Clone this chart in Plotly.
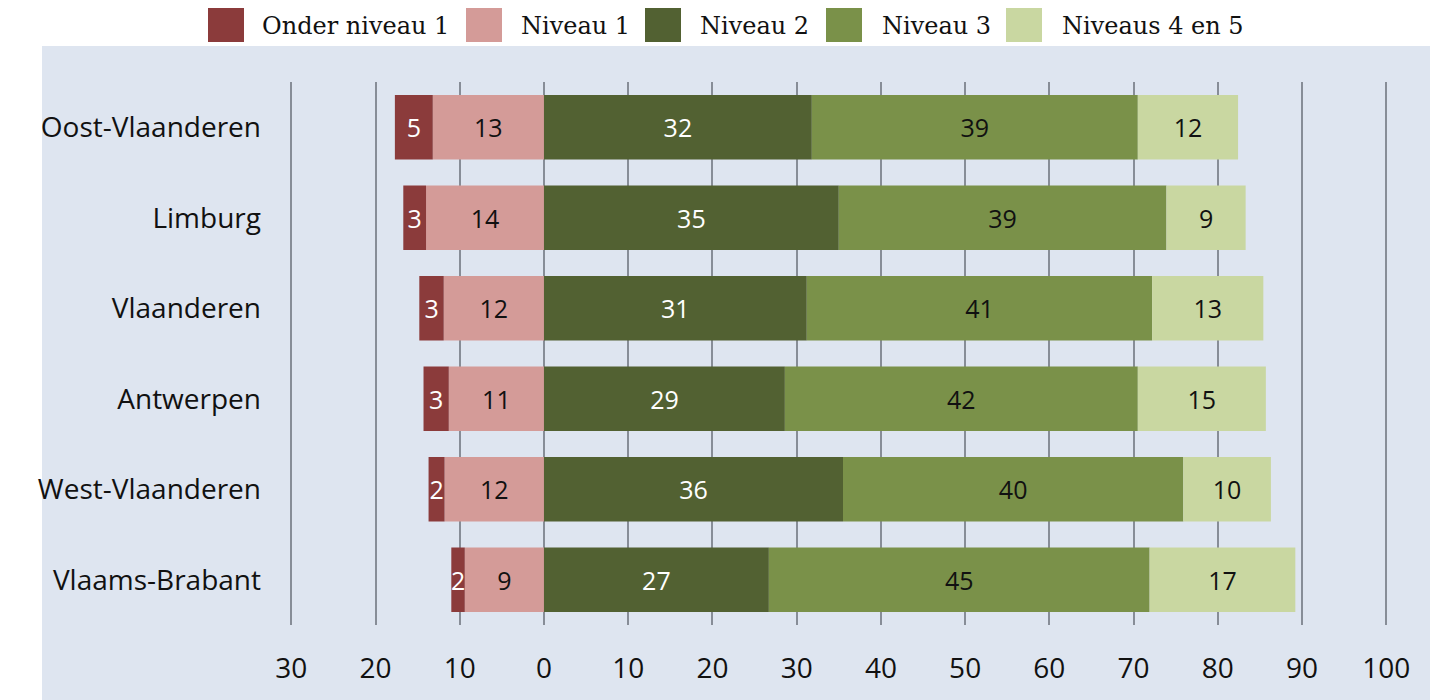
import math
import plotly.graph_objects as go

# ---------------- data ----------------
categories = ["Oost-Vlaanderen", "Limburg", "Vlaanderen", "Antwerpen",
              "West-Vlaanderen", "Vlaams-Brabant"]
series_names = ["Onder niveau 1", "Niveau 1", "Niveau 2", "Niveau 3", "Niveaus 4 en 5"]
onder_niveau_1 = [4.5, 2.7, 2.9, 3.0, 1.9, 1.6]
niveau_1 = [13.2, 14.0, 11.9, 11.3, 11.8, 9.4]
niveau_2 = [31.8, 35.0, 31.2, 28.6, 35.5, 26.7]
niveau_3 = [38.7, 38.9, 41.0, 41.9, 40.4, 45.2]
niveaus_4_5 = [11.9, 9.4, 13.2, 15.2, 10.4, 17.3]
tick_values = [-30, -20, -10, 0, 10, 20, 30, 40, 50, 60, 70, 80, 90, 100]
tick_labels = ["30", "20", "10", "0", "10", "20", "30", "40", "50", "60", "70", "80", "90", "100"]

# ---------------- style ----------------
colors = ["#8B3B3B", "#D49B98", "#526132", "#7A9149", "#C9D7A1"]
text_colors = ["white", "#111111", "white", "#111111", "#111111"]
BG = "#DEE5F0"
W, H = 1430, 700
ML, MR, MT, MB = 266, 10, 82, 75
PW, PH = W - ML - MR, H - MT - MB
SANS = "Open Sans"
SERIF = "DejaVu Serif"


def lab(vals):
    return [str(int(math.floor(abs(v) + 0.5))) for v in vals]


def px_x(p):
    return (p - ML) / PW


def px_y(p):
    return (H - MB - p) / PH


fig = go.Figure()

# negative side first (stacked outward from zero), then positive side
order = [(1, niveau_1, -1), (0, onder_niveau_1, -1),
         (2, niveau_2, 1), (3, niveau_3, 1), (4, niveaus_4_5, 1)]
for idx, vals, sign in order:
    fig.add_trace(go.Bar(
        y=categories,
        x=[sign * v for v in vals],
        orientation="h",
        name=series_names[idx],
        marker=dict(color=colors[idx], line=dict(width=0)),
        width=0.71,
        text=lab(vals),
        textposition="inside",
        insidetextanchor="middle",
        textangle=0,
        constraintext="none",
        cliponaxis=False,
        textfont=dict(family=SANS, size=25, color=text_colors[idx]),
        showlegend=False,
    ))

shapes = [
    dict(type="rect", xref="paper", yref="paper",
         x0=px_x(42), x1=px_x(1440), y0=px_y(710), y1=px_y(46),
         fillcolor=BG, line=dict(width=0), layer="below"),
]
annotations = []

# manual legend (large square swatches, serif text)
legend_swatch_x = [208, 466, 645, 826, 1006]
legend_text_x = [260, 519, 698, 880, 1060]
for i, name in enumerate(series_names):
    shapes.append(dict(type="rect", xref="paper", yref="paper",
                       x0=px_x(legend_swatch_x[i]), x1=px_x(legend_swatch_x[i] + 36),
                       y0=px_y(42), y1=px_y(8),
                       fillcolor=colors[i], line=dict(width=0)))
    annotations.append(dict(xref="paper", yref="paper",
                            x=px_x(legend_text_x[i]), y=px_y(26),
                            xanchor="left", yanchor="middle", showarrow=False,
                            text=name, font=dict(family=SERIF, size=24, color="#111111")))

fig.update_layout(
    width=W, height=H,
    margin=dict(l=ML, r=MR, t=MT, b=MB, pad=0),
    paper_bgcolor="white",
    plot_bgcolor=BG,
    barmode="relative",
    bargap=0.29,
    shapes=shapes,
    annotations=annotations,
    showlegend=False,
    xaxis=dict(
        range=[-33, 104],
        tickvals=tick_values,
        ticktext=tick_labels,
        showgrid=True, gridcolor="#878D97", gridwidth=2,
        zeroline=False, showline=False,
        ticks="", ticklabelstandoff=24,
        tickfont=dict(family=SANS, size=28, color="#111111"),
        fixedrange=True,
    ),
    yaxis=dict(
        categoryorder="array", categoryarray=categories,
        range=[5.5, -0.5],
        showgrid=False, zeroline=False, showline=False,
        ticks="", ticklabelstandoff=4,
        tickfont=dict(family=SANS, size=28, color="#111111"),
        fixedrange=True,
    ),
)

fig.write_html("out.html",
               config={"displayModeBar": False},
               post_script="document.body.style.margin='0';document.body.style.padding='0';")
